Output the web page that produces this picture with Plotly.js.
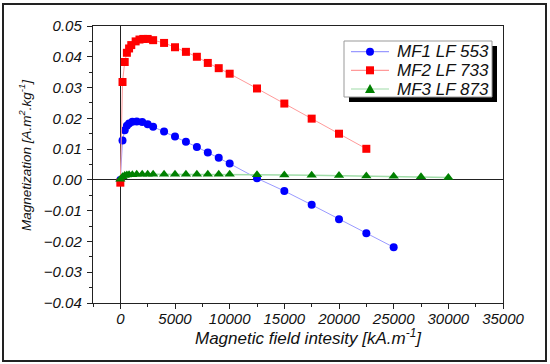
<!DOCTYPE html>
<html>
<head>
<meta charset="utf-8">
<script src="https://cdn.plot.ly/plotly-3.0.1.min.js"></script>
<style>
html,body{margin:0;padding:0;background:#fff;}
#wrap{position:relative;width:550px;height:364px;}
#chart{width:550px;height:364px;}
#frame{position:absolute;left:2px;top:3px;width:541px;height:355px;border:2px solid #222;pointer-events:none;}
</style>
</head>
<body>
<div id="wrap"><div id="chart"></div><div id="frame"></div></div>
<script>
// MF1 LF 553
const mf1X = [0, 200, 400, 600, 800, 1100, 1500, 2000, 2500, 3000, 4000, 5000, 6000, 7000, 8000, 9000, 10000, 12500, 15000, 17500, 20000, 22500, 25000];
const mf1Y = [0, 0.0128, 0.0161, 0.0176, 0.0183, 0.0189, 0.0190, 0.0188, 0.0181, 0.0173, 0.0157, 0.0141, 0.0124, 0.0107, 0.0089, 0.0072, 0.0053, 0.0005, -0.0036, -0.0081, -0.0128, -0.0173, -0.0219];
// MF2 LF 733
const mf2X = [0, 200, 400, 600, 800, 1000, 1400, 1750, 2100, 2500, 3000, 4000, 5000, 6000, 7000, 8000, 9000, 10000, 12500, 15000, 17500, 20000, 22500];
const mf2Y = [-0.0009, 0.0318, 0.0383, 0.0413, 0.0427, 0.0438, 0.0450, 0.0456, 0.0458, 0.0458, 0.0454, 0.0445, 0.0431, 0.0416, 0.0400, 0.0380, 0.0363, 0.0345, 0.0297, 0.0248, 0.0199, 0.0150, 0.0101];
// MF3 LF 873
const mf3X = [0, 200, 400, 600, 800, 1100, 1500, 2000, 2500, 3000, 4000, 5000, 6000, 7000, 8000, 9000, 10000, 12500, 15000, 17500, 20000, 22500, 25000, 27500, 30000];
const mf3Y = [0.0002, 0.0010, 0.0014, 0.0016, 0.0017, 0.0017, 0.0018, 0.0018, 0.0018, 0.0018, 0.0018, 0.0018, 0.0018, 0.0018, 0.0018, 0.0018, 0.0018, 0.0017, 0.0016, 0.0015, 0.0014, 0.0013, 0.0012, 0.0010, 0.0008];
const names = ['MF1 LF 553', 'MF2 LF 733', 'MF3 LF 873'];
const xTickVals = [0, 5000, 10000, 15000, 20000, 25000, 30000, 35000];
const yTickVals = [-0.04, -0.03, -0.02, -0.01, 0, 0.01, 0.02, 0.03, 0.04, 0.05];
const xTitle = 'Magnetic field intesity [kA.m<sup>-1</sup>]';
const yTitle = 'Magnetization [A.m<sup>2</sup>.kg<sup>-1</sup>]';

const fontFam = 'Arial, "Liberation Sans", sans-serif';
const lineColors = ['#9a9aff', '#ff9a9a', '#a0dca8'];
const markerColors = ['#0000ff', '#ff0000', '#008000'];
const traces = [
  {x: mf1X, y: mf1Y, name: names[0], mode: 'lines+markers', type: 'scatter',
   line: {color: lineColors[0], width: 1}, marker: {symbol: 'circle', size: 8, color: markerColors[0]}},
  {x: mf2X, y: mf2Y, name: names[1], mode: 'lines+markers', type: 'scatter',
   line: {color: lineColors[1], width: 1}, marker: {symbol: 'square', size: 8, color: markerColors[1]}},
  {x: mf3X, y: mf3Y, name: names[2], mode: 'lines+markers', type: 'scatter',
   line: {color: lineColors[2], width: 1.5}, marker: {symbol: 'triangle-up', size: 9, color: markerColors[2]}}
];

const axisCommon = {
  showgrid: false, showline: true, mirror: true, linecolor: '#222', linewidth: 1.2,
  ticks: 'outside', ticklen: 5, tickcolor: '#222', tickwidth: 1,
  zeroline: true, zerolinecolor: '#222', zerolinewidth: 1.2,
  tickfont: {family: fontFam, size: 15, style: 'italic', color: '#111'}
};

// ---- legend box (drawn as shapes + annotations, compact like the original) ----
const L = 93, T = 26, W = 410, H = 277;
const px = function (v) { return (v - L) / W; };
const py = function (v) { return (T + H - v) / H; };
const shapes = [
  {type: 'rect', xref: 'paper', yref: 'paper', x0: px(349), x1: px(497), y0: py(102), y1: py(46),
   fillcolor: '#000', line: {width: 0}, layer: 'above'},
  {type: 'rect', xref: 'paper', yref: 'paper', x0: px(344), x1: px(492), y0: py(97), y1: py(41),
   fillcolor: '#fff', line: {color: '#999', width: 1}, layer: 'above'}
];
const annotations = [
  {text: yTitle, xref: 'paper', yref: 'paper', x: px(25), y: py(155),
   xanchor: 'center', yanchor: 'middle', textangle: -90, showarrow: false,
   font: {family: fontFam, size: 13.5, style: 'italic', color: '#111'}},
  {text: xTitle, xref: 'paper', yref: 'paper', x: px(308.5), y: py(337),
   xanchor: 'center', yanchor: 'middle', showarrow: false,
   font: {family: fontFam, size: 17, style: 'italic', color: '#111'}}
];
const entryY = [51.7, 70.3, 89];
names.forEach(function (nm, i) {
  const yy = py(entryY[i]);
  shapes.push({type: 'line', xref: 'paper', yref: 'paper', x0: px(351), x1: px(389), y0: yy, y1: yy,
    line: {color: lineColors[i], width: 1.2}, layer: 'above'});
  const mk = {xref: 'paper', yref: 'paper', xsizemode: 'pixel', ysizemode: 'pixel',
    xanchor: px(370), yanchor: yy, fillcolor: markerColors[i], line: {width: 0}, layer: 'above'};
  if (i === 0) shapes.push(Object.assign({type: 'circle', x0: -4, x1: 4, y0: -4, y1: 4}, mk));
  if (i === 1) shapes.push(Object.assign({type: 'rect', x0: -4, x1: 4, y0: -4, y1: 4}, mk));
  if (i === 2) shapes.push(Object.assign({type: 'path', path: 'M -5 -4 L 5 -4 L 0 5 Z'}, mk));
  annotations.push({text: nm, xref: 'paper', yref: 'paper', x: px(395), y: yy,
    xanchor: 'left', yanchor: 'middle', showarrow: false,
    font: {family: fontFam, size: 17, style: 'italic', color: '#111'}});
});

const layout = {
  width: 550, height: 364,
  margin: {l: L, r: 550 - L - W, t: T, b: 364 - T - H},
  paper_bgcolor: '#fff', plot_bgcolor: '#fff',
  showlegend: false,
  xaxis: Object.assign({}, axisCommon, {
    range: [-2500, 35000], tickvals: xTickVals, tickformat: 'd', ticklabelstandoff: -3,
    minor: {dtick: 2500, ticks: 'outside', ticklen: 3, tickcolor: '#222', showgrid: false}
  }),
  yaxis: Object.assign({}, axisCommon, {
    range: [-0.04, 0.05], tickvals: yTickVals, tickformat: '.2f', ticklabelstandoff: 2,
    minor: {dtick: 0.005, ticks: 'outside', ticklen: 3, tickcolor: '#222', showgrid: false}
  }),
  annotations: annotations,
  shapes: shapes
};

Plotly.newPlot('chart', traces, layout, {displayModeBar: false, staticPlot: true});
</script>
</body>
</html>
